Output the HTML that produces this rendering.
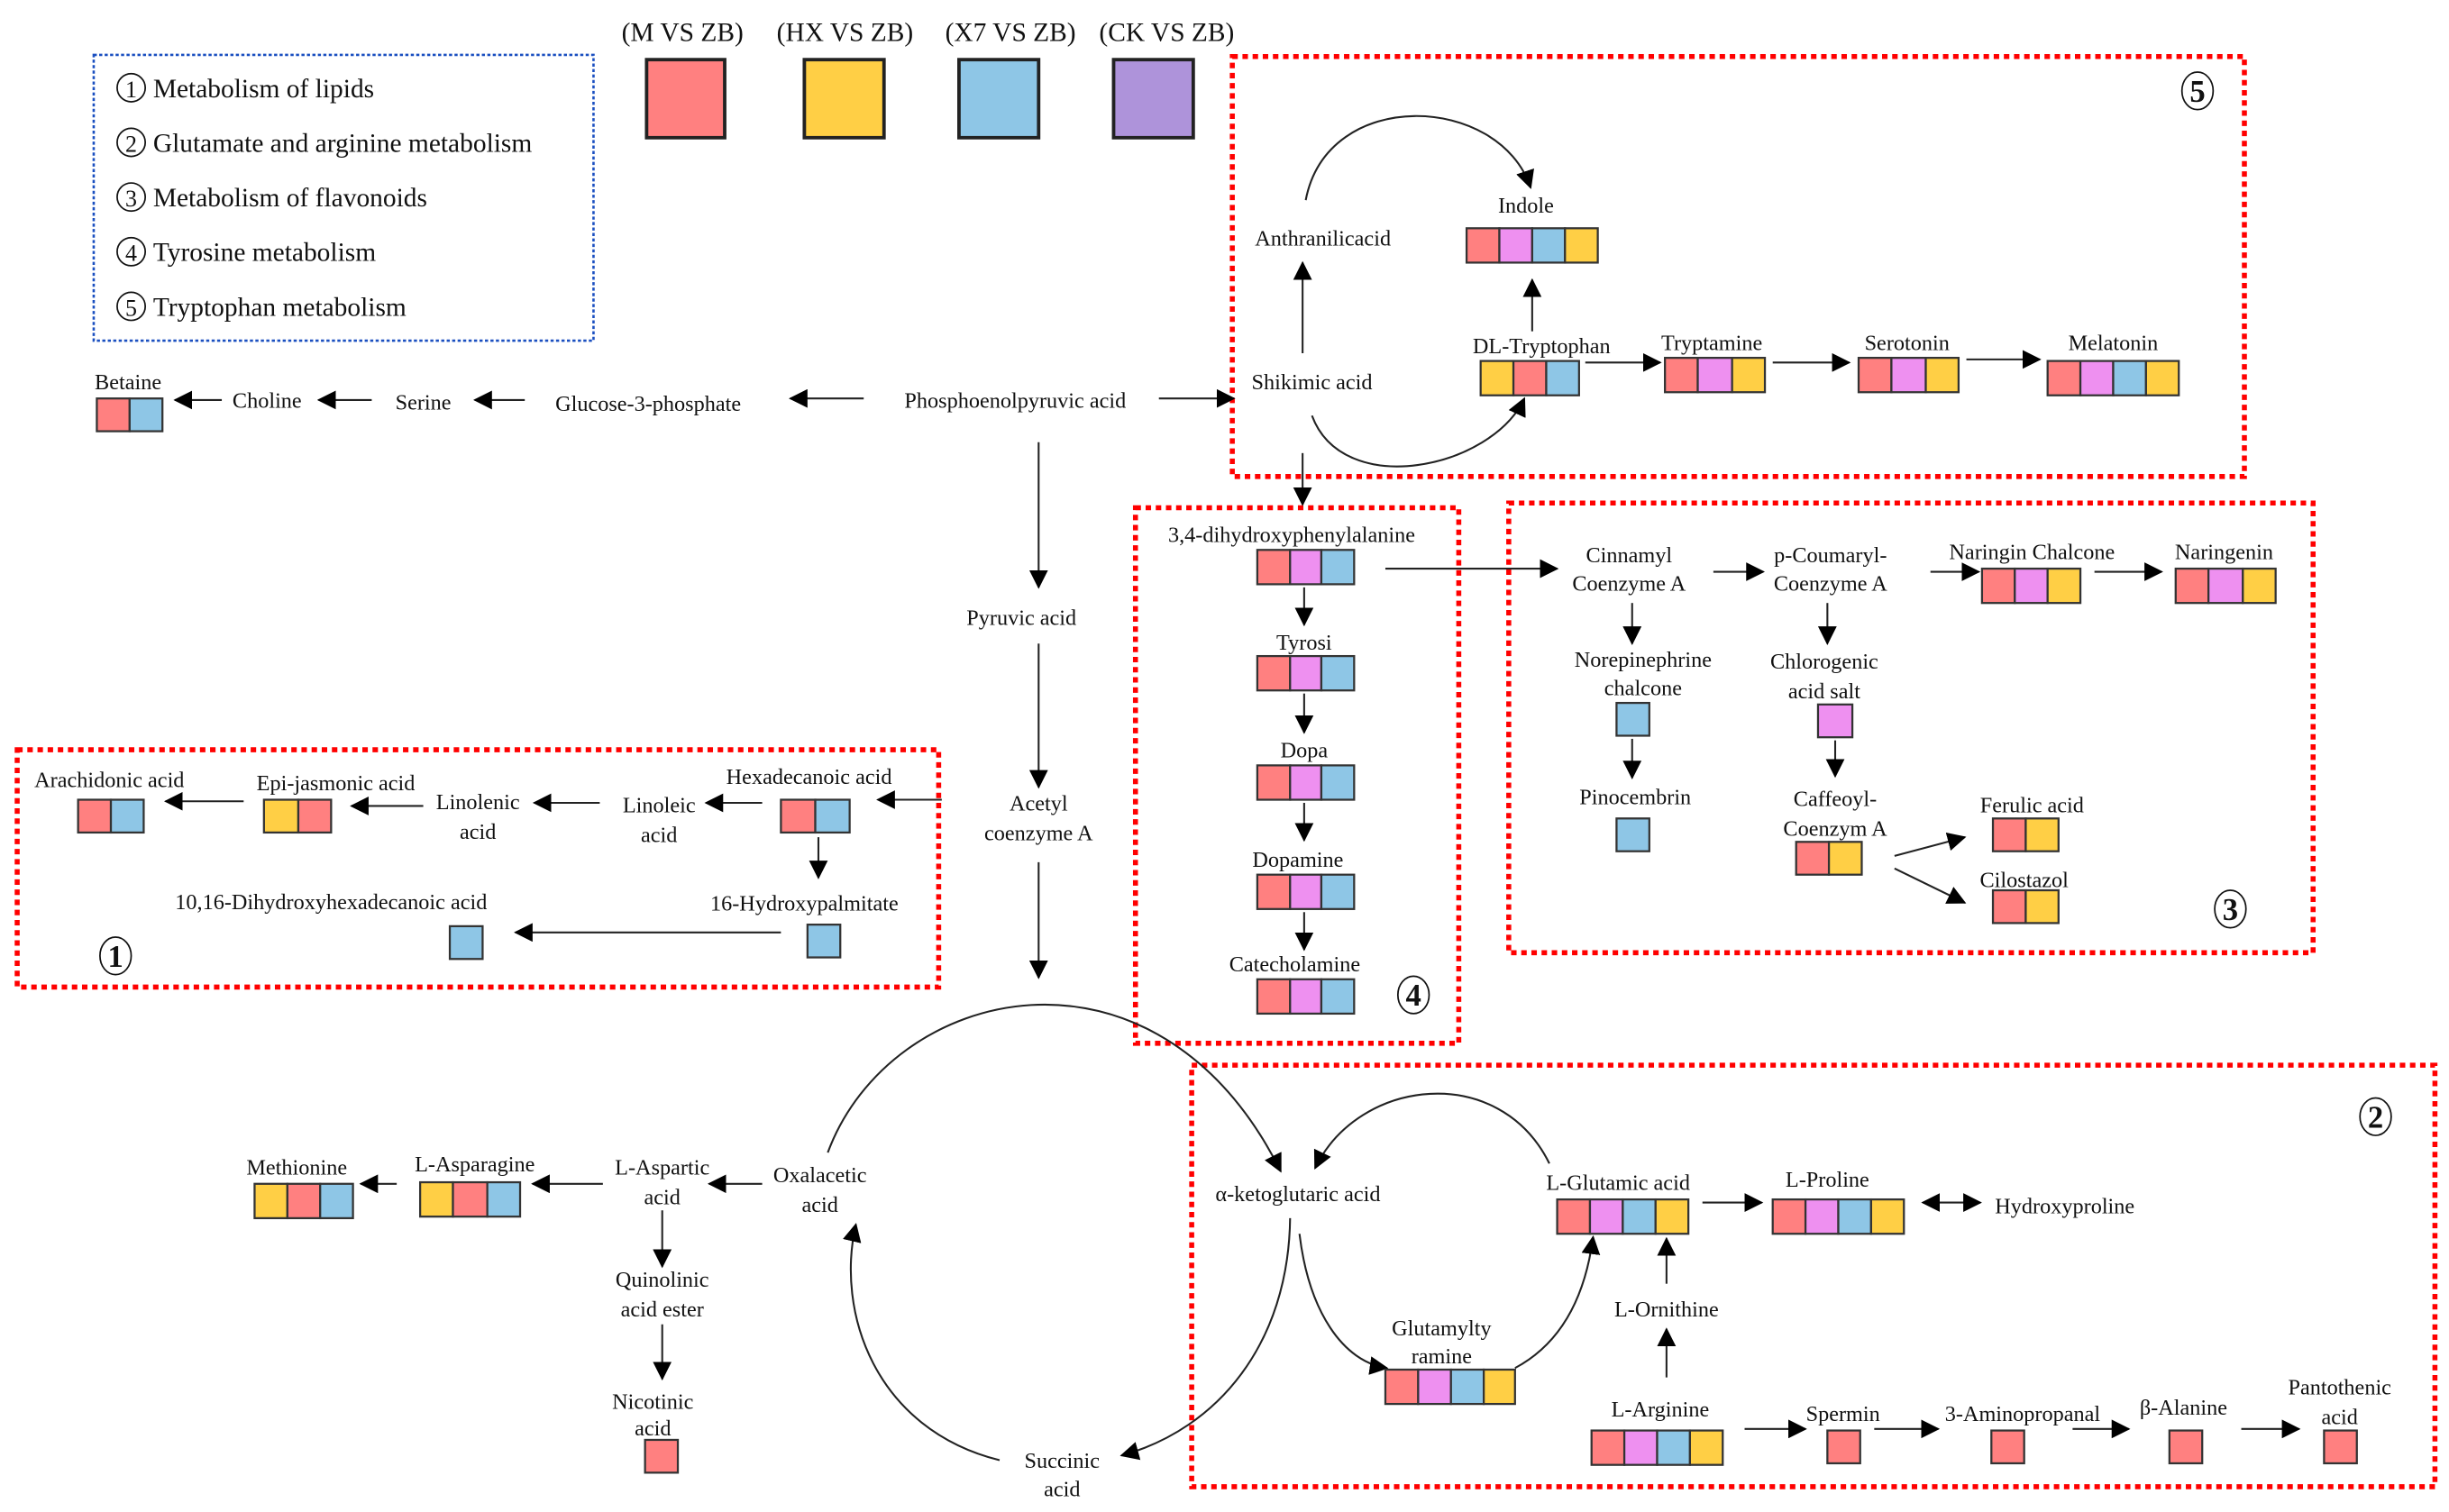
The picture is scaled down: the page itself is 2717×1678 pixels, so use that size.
<!DOCTYPE html>
<html><head><meta charset="utf-8"><style>html,body{margin:0;padding:0;background:#fff}svg{display:block;font-family:"Liberation Serif","Times New Roman",serif}</style></head>
<body>
<svg xmlns="http://www.w3.org/2000/svg" width="2717" height="1678" viewBox="0 0 1568 968" font-size="14" fill="#111">
<defs>
<marker id="a" markerUnits="userSpaceOnUse" markerWidth="12" markerHeight="12" viewBox="0 0 12 12" refX="11" refY="6" orient="auto"><path d="M0,0 L12,6 L0,12 z" fill="#000"/></marker>
<marker id="b" markerUnits="userSpaceOnUse" markerWidth="12" markerHeight="12" viewBox="0 0 12 12" refX="1" refY="6" orient="auto"><path d="M12,0 L0,6 L12,12 z" fill="#000"/></marker>
</defs>
<style>
text{font-family:"Liberation Serif","Times New Roman",serif;text-anchor:middle}
.r{fill:#FF8080}.p{fill:#EE90F0}.bl{fill:#8EC6E6}.y{fill:#FFCF45}
rect{stroke:#333;stroke-width:1.3}
.ln{stroke:#222;stroke-width:1.2;fill:none;marker-end:url(#a)}
.rd{fill:none;stroke:#FF0000;stroke-width:3.2;stroke-dasharray:3.5 3}
</style>

<!-- legend -->
<rect x="60" y="35" width="320" height="183" fill="none" style="stroke:#1a4fc0;stroke-width:1.5;stroke-dasharray:2 1.5"/>
<g font-size="17">
<g fill="none" stroke="#111" stroke-width="1"><circle cx="84" cy="56" r="9"/><circle cx="84" cy="91" r="9"/><circle cx="84" cy="126" r="9"/><circle cx="84" cy="161" r="9"/><circle cx="84" cy="196" r="9"/></g>
<text x="84" y="62" font-size="15">1</text><text x="84" y="97" font-size="15">2</text><text x="84" y="132" font-size="15">3</text><text x="84" y="167" font-size="15">4</text><text x="84" y="202" font-size="15">5</text>
<text x="98" y="62" style="text-anchor:start">Metabolism of lipids</text>
<text x="98" y="97" style="text-anchor:start">Glutamate and arginine metabolism</text>
<text x="98" y="132" style="text-anchor:start">Metabolism of flavonoids</text>
<text x="98" y="167" style="text-anchor:start">Tyrosine metabolism</text>
<text x="98" y="202" style="text-anchor:start">Tryptophan metabolism</text>
</g>
<g font-size="17">
<text x="437" y="26">(M VS ZB)</text><text x="541" y="26">(HX VS ZB)</text><text x="647" y="26">(X7 VS ZB)</text><text x="747" y="26">(CK VS ZB)</text>
</g>
<rect x="414" y="38" width="50" height="50" class="r" style="stroke:#222;stroke-width:2.2"/>
<rect x="515" y="38" width="51" height="50" class="y" style="stroke:#222;stroke-width:2.2"/>
<rect x="614" y="38" width="51" height="50" class="bl" style="stroke:#222;stroke-width:2.2"/>
<rect x="713" y="38" width="51" height="50" fill="#AE93DA" style="stroke:#222;stroke-width:2.2"/>

<!-- region boxes -->
<rect class="rd" x="789" y="36" width="648" height="269"/>
<rect class="rd" x="727" y="325" width="207" height="343"/>
<rect class="rd" x="966" y="322" width="515" height="288"/>
<rect class="rd" x="11" y="480" width="590" height="152"/>
<rect class="rd" x="763" y="682" width="796" height="270"/>
<g fill="none" stroke="#111" stroke-width="1"><ellipse cx="1407" cy="58" rx="10" ry="12"/><ellipse cx="905" cy="637" rx="10" ry="12"/><ellipse cx="1428" cy="582" rx="10" ry="12"/><ellipse cx="74" cy="612" rx="10" ry="12"/><ellipse cx="1521" cy="715" rx="10" ry="12"/></g>
<g font-size="20" font-weight="bold"><text x="1407" y="65">5</text><text x="905" y="644">4</text><text x="1428" y="589">3</text><text x="74" y="619">1</text><text x="1521" y="722">2</text></g>

<!-- top row -->
<text x="82" y="249">Betaine</text>
<rect x="62" y="255" width="21" height="21" class="r"/><rect x="83" y="255" width="21" height="21" class="bl"/>
<text x="171" y="261">Choline</text><text x="271" y="262">Serine</text><text x="415" y="263">Glucose-3-phosphate</text><text x="650" y="261">Phosphoenolpyruvic acid</text>
<line class="ln" x1="142" y1="256" x2="112" y2="256"/>
<line class="ln" x1="238" y1="256" x2="204" y2="256"/>
<line class="ln" x1="336" y1="256" x2="304" y2="256"/>
<line class="ln" x1="553" y1="255" x2="506" y2="255"/>
<line class="ln" x1="742" y1="255" x2="790" y2="255"/>
<line class="ln" x1="665" y1="283" x2="665" y2="376"/>
<text x="654" y="400">Pyruvic acid</text>
<line class="ln" x1="665" y1="412" x2="665" y2="504"/>
<text x="665" y="519">Acetyl</text><text x="665" y="538">coenzyme A</text>
<line class="ln" x1="665" y1="552" x2="665" y2="626"/>
<line class="ln" x1="603" y1="512" x2="562" y2="512"/>

<!-- region 5 -->
<text x="840" y="249">Shikimic acid</text>
<text x="847" y="157">Anthranilicacid</text>
<line class="ln" x1="834" y1="226" x2="834" y2="168"/>
<path class="ln" d="M836,128 C850,55 960,60 980,120"/>
<text x="977" y="136">Indole</text>
<rect x="939" y="146" width="21" height="22" class="r"/><rect x="960" y="146" width="21" height="22" class="p"/><rect x="981" y="146" width="21" height="22" class="bl"/><rect x="1002" y="146" width="21" height="22" class="y"/>
<line class="ln" x1="981" y1="212" x2="981" y2="179"/>
<text x="987" y="226">DL-Tryptophan</text>
<rect x="948" y="231" width="21" height="22" class="y"/><rect x="969" y="231" width="21" height="22" class="r"/><rect x="990" y="231" width="21" height="22" class="bl"/>
<path class="ln" d="M840,266 C860,320 955,300 976,255"/>
<line class="ln" x1="1015" y1="232" x2="1063" y2="232"/>
<text x="1096" y="224">Tryptamine</text>
<rect x="1066" y="229" width="21" height="22" class="r"/><rect x="1087" y="229" width="22" height="22" class="p"/><rect x="1109" y="229" width="21" height="22" class="y"/>
<line class="ln" x1="1135" y1="232" x2="1184" y2="232"/>
<text x="1221" y="224">Serotonin</text>
<rect x="1190" y="229" width="21" height="22" class="r"/><rect x="1211" y="229" width="22" height="22" class="p"/><rect x="1233" y="229" width="21" height="22" class="y"/>
<line class="ln" x1="1259" y1="230" x2="1306" y2="230"/>
<text x="1353" y="224">Melatonin</text>
<rect x="1311" y="231" width="21" height="22" class="r"/><rect x="1332" y="231" width="21" height="22" class="p"/><rect x="1353" y="231" width="21" height="22" class="bl"/><rect x="1374" y="231" width="21" height="22" class="y"/>
<line class="ln" x1="834" y1="290" x2="834" y2="323"/>

<!-- region 4 -->
<text x="827" y="347">3,4-dihydroxyphenylalanine</text>
<g>
<rect x="805" y="352" width="21" height="22" class="r"/><rect x="826" y="352" width="20" height="22" class="p"/><rect x="846" y="352" width="21" height="22" class="bl"/>
<rect x="805" y="420" width="21" height="22" class="r"/><rect x="826" y="420" width="20" height="22" class="p"/><rect x="846" y="420" width="21" height="22" class="bl"/>
<rect x="805" y="490" width="21" height="22" class="r"/><rect x="826" y="490" width="20" height="22" class="p"/><rect x="846" y="490" width="21" height="22" class="bl"/>
<rect x="805" y="560" width="21" height="22" class="r"/><rect x="826" y="560" width="20" height="22" class="p"/><rect x="846" y="560" width="21" height="22" class="bl"/>
<rect x="805" y="627" width="21" height="22" class="r"/><rect x="826" y="627" width="20" height="22" class="p"/><rect x="846" y="627" width="21" height="22" class="bl"/>
</g>
<text x="835" y="416">Tyrosi</text><text x="835" y="485">Dopa</text><text x="831" y="555">Dopamine</text><text x="829" y="622">Catecholamine</text>
<line class="ln" x1="835" y1="376" x2="835" y2="400"/>
<line class="ln" x1="835" y1="444" x2="835" y2="469"/>
<line class="ln" x1="835" y1="514" x2="835" y2="538"/>
<line class="ln" x1="835" y1="584" x2="835" y2="608"/>
<line class="ln" x1="887" y1="364" x2="997" y2="364"/>

<!-- region 3 -->
<text x="1043" y="360">Cinnamyl</text><text x="1043" y="378">Coenzyme A</text>
<line class="ln" x1="1097" y1="366" x2="1129" y2="366"/>
<text x="1172" y="360">p-Coumaryl-</text><text x="1172" y="378">Coenzyme A</text>
<line class="ln" x1="1236" y1="366" x2="1267" y2="366"/>
<text x="1301" y="358">Naringin Chalcone</text>
<rect x="1269" y="364" width="21" height="22" class="r"/><rect x="1290" y="364" width="21" height="22" class="p"/><rect x="1311" y="364" width="21" height="22" class="y"/>
<line class="ln" x1="1341" y1="366" x2="1384" y2="366"/>
<text x="1424" y="358">Naringenin</text>
<rect x="1393" y="364" width="21" height="22" class="r"/><rect x="1414" y="364" width="22" height="22" class="p"/><rect x="1436" y="364" width="21" height="22" class="y"/>
<line class="ln" x1="1045" y1="386" x2="1045" y2="412"/>
<text x="1052" y="427">Norepinephrine</text><text x="1052" y="445">chalcone</text>
<rect x="1035" y="450" width="21" height="21" class="bl"/>
<line class="ln" x1="1045" y1="473" x2="1045" y2="498"/>
<text x="1047" y="515">Pinocembrin</text>
<rect x="1035" y="524" width="21" height="21" class="bl"/>
<line class="ln" x1="1170" y1="386" x2="1170" y2="412"/>
<text x="1168" y="428">Chlorogenic</text><text x="1168" y="447">acid salt</text>
<rect x="1164" y="451" width="22" height="21" class="p"/>
<line class="ln" x1="1175" y1="474" x2="1175" y2="497"/>
<text x="1175" y="516">Caffeoyl-</text><text x="1175" y="535">Coenzym A</text>
<rect x="1150" y="539" width="21" height="21" class="r"/><rect x="1171" y="539" width="21" height="21" class="y"/>
<line class="ln" x1="1213" y1="548" x2="1258" y2="536"/>
<line class="ln" x1="1213" y1="556" x2="1258" y2="578"/>
<text x="1301" y="520">Ferulic acid</text>
<rect x="1276" y="524" width="21" height="21" class="r"/><rect x="1297" y="524" width="21" height="21" class="y"/>
<text x="1296" y="568">Cilostazol</text>
<rect x="1276" y="570" width="21" height="21" class="r"/><rect x="1297" y="570" width="21" height="21" class="y"/>

<!-- region 1 -->
<text x="518" y="502">Hexadecanoic acid</text>
<rect x="500" y="512" width="22" height="21" class="r"/><rect x="522" y="512" width="22" height="21" class="bl"/>
<text x="422" y="520">Linoleic</text><text x="422" y="539">acid</text>
<line class="ln" x1="488" y1="514" x2="452" y2="514"/>
<text x="306" y="518">Linolenic</text><text x="306" y="537">acid</text>
<line class="ln" x1="384" y1="514" x2="342" y2="514"/>
<text x="215" y="506">Epi-jasmonic acid</text>
<rect x="169" y="512" width="22" height="21" class="y"/><rect x="191" y="512" width="21" height="21" class="r"/>
<line class="ln" x1="271" y1="516" x2="225" y2="516"/>
<text x="70" y="504">Arachidonic acid</text>
<rect x="50" y="512" width="21" height="21" class="r"/><rect x="71" y="512" width="21" height="21" class="bl"/>
<line class="ln" x1="156" y1="513" x2="106" y2="513"/>
<line class="ln" x1="524" y1="536" x2="524" y2="562"/>
<text x="515" y="583">16-Hydroxypalmitate</text>
<rect x="517" y="592" width="21" height="21" class="bl"/>
<text x="212" y="582">10,16-Dihydroxyhexadecanoic acid</text>
<rect x="288" y="593" width="21" height="21" class="bl"/>
<line class="ln" x1="500" y1="597" x2="330" y2="597"/>

<!-- TCA -->
<path class="ln" d="M530,738 C570,630 740,590 820,750"/>
<path class="ln" d="M826,780 C825,860 780,915 718,932"/>
<path class="ln" d="M640,935 C560,915 535,840 548,784"/>
<text x="831" y="769">α-ketoglutaric acid</text>
<text x="525" y="757">Oxalacetic</text><text x="525" y="776">acid</text>
<text x="680" y="940">Succinic</text><text x="680" y="958">acid</text>
<text x="424" y="752">L-Aspartic</text><text x="424" y="771">acid</text>
<line class="ln" x1="488" y1="758" x2="454" y2="758"/>
<text x="304" y="750">L-Asparagine</text>
<rect x="269" y="757" width="21" height="22" class="y"/><rect x="290" y="757" width="22" height="22" class="r"/><rect x="312" y="757" width="21" height="22" class="bl"/>
<line class="ln" x1="386" y1="758" x2="341" y2="758"/>
<text x="190" y="752">Methionine</text>
<rect x="163" y="758" width="21" height="22" class="y"/><rect x="184" y="758" width="21" height="22" class="r"/><rect x="205" y="758" width="21" height="22" class="bl"/>
<line class="ln" x1="254" y1="758" x2="231" y2="758"/>
<line class="ln" x1="424" y1="775" x2="424" y2="811"/>
<text x="424" y="824">Quinolinic</text><text x="424" y="843">acid ester</text>
<line class="ln" x1="424" y1="848" x2="424" y2="883"/>
<text x="418" y="902">Nicotinic</text><text x="418" y="919">acid</text>
<rect x="413" y="922" width="21" height="21" class="r"/>

<!-- region 2 -->
<text x="1036" y="762">L-Glutamic acid</text>
<rect x="997" y="768" width="21" height="22" class="r"/><rect x="1018" y="768" width="21" height="22" class="p"/><rect x="1039" y="768" width="21" height="22" class="bl"/><rect x="1060" y="768" width="21" height="22" class="y"/>
<line class="ln" x1="1090" y1="770" x2="1128" y2="770"/>
<text x="1170" y="760">L-Proline</text>
<rect x="1135" y="768" width="21" height="22" class="r"/><rect x="1156" y="768" width="21" height="22" class="p"/><rect x="1177" y="768" width="21" height="22" class="bl"/><rect x="1198" y="768" width="21" height="22" class="y"/>
<line class="ln" x1="1231" y1="770" x2="1268" y2="770" style="marker-start:url(#b)"/>
<text x="1322" y="777">Hydroxyproline</text>
<path class="ln" d="M992,745 C960,680 870,690 842,748"/>
<path class="ln" d="M832,790 C838,840 860,872 888,876"/>
<text x="923" y="855">Glutamylty</text><text x="923" y="873">ramine</text>
<rect x="887" y="877" width="21" height="22" class="r"/><rect x="908" y="877" width="21" height="22" class="p"/><rect x="929" y="877" width="21" height="22" class="bl"/><rect x="950" y="877" width="20" height="22" class="y"/>
<path class="ln" d="M970,876 C1000,860 1015,830 1020,792"/>
<text x="1067" y="843">L-Ornithine</text>
<line class="ln" x1="1067" y1="822" x2="1067" y2="793"/>
<line class="ln" x1="1067" y1="882" x2="1067" y2="851"/>
<text x="1063" y="907">L-Arginine</text>
<rect x="1019" y="916" width="21" height="22" class="r"/><rect x="1040" y="916" width="21" height="22" class="p"/><rect x="1061" y="916" width="21" height="22" class="bl"/><rect x="1082" y="916" width="21" height="22" class="y"/>
<line class="ln" x1="1117" y1="915" x2="1156" y2="915"/>
<text x="1180" y="910">Spermin</text>
<rect x="1170" y="916" width="21" height="21" class="r"/>
<line class="ln" x1="1200" y1="915" x2="1241" y2="915"/>
<text x="1295" y="910">3-Aminopropanal</text>
<rect x="1275" y="916" width="21" height="21" class="r"/>
<line class="ln" x1="1327" y1="915" x2="1363" y2="915"/>
<text x="1398" y="906">β-Alanine</text>
<rect x="1389" y="916" width="21" height="21" class="r"/>
<line class="ln" x1="1435" y1="915" x2="1472" y2="915"/>
<text x="1498" y="893">Pantothenic</text><text x="1498" y="912">acid</text>
<rect x="1488" y="916" width="21" height="21" class="r"/>
</svg>
</body></html>
